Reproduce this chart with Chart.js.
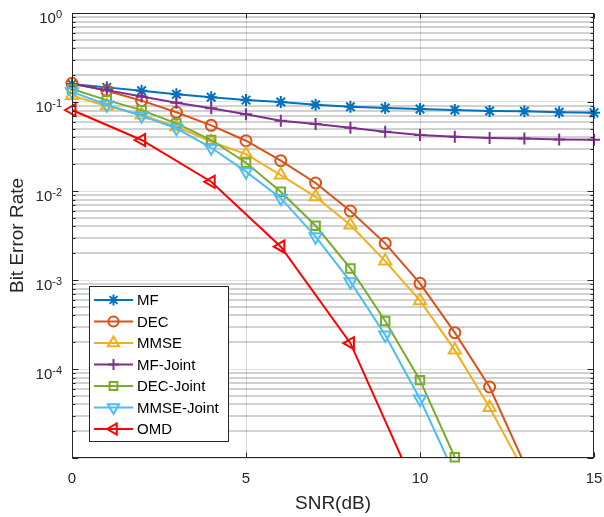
<!DOCTYPE html>
<html>
<head>
<meta charset="utf-8">
<script src="https://cdn.jsdelivr.net/npm/chart.js@4/dist/chart.umd.min.js"></script>
<style>
  html, body { margin: 0; padding: 0; background: #fff; }
  canvas { display: block; }
</style>
</head>
<body>
<canvas id="grafico-ber" width="604" height="517"></canvas>
<script>
// SNR (dB) axis values
const snr = [0, 1, 2, 3, 4, 5, 6, 7, 8, 9, 10, 11, 12, 13, 14, 15];
const snrOmd = [0, 2, 4, 6, 8, 10];

// BER curves
const berMF = [0.159, 0.146, 0.134, 0.122, 0.113, 0.105, 0.1, 0.0932, 0.0886, 0.0856, 0.0834, 0.0813, 0.0792, 0.0786, 0.0766, 0.0758];
const berDEC = [0.162, 0.134, 0.1035, 0.0766, 0.0547, 0.0367, 0.0219, 0.0123, 0.00596, 0.00258, 0.000918, 0.000256, 6.28e-5, 8.6e-6];
const berMMSE = [0.118, 0.090, 0.0714, 0.0528, 0.0358, 0.026, 0.0151, 0.0086, 0.00415, 0.00163, 0.000586, 0.000163, 3.7e-5, 7.0e-6];
const berMFJoint = [0.159, 0.136, 0.115, 0.098, 0.085, 0.0727, 0.0617, 0.0566, 0.0514, 0.0464, 0.0426, 0.0408, 0.0394, 0.0388, 0.038, 0.0376];
const berDECJoint = [0.14, 0.105, 0.081, 0.0575, 0.0374, 0.0208, 0.0098, 0.00407, 0.00135, 0.000346, 7.5e-5, 1.02e-5];
const berMMSEJoint = [0.13, 0.093, 0.07, 0.0507, 0.0306, 0.0165, 0.0083, 0.00307, 0.000957, 0.000241, 4.6e-5, 6.5e-6];
const berOMD = [0.0813, 0.0374, 0.0127, 0.00237, 0.000195, 3.5e-6];

// tick labels
const xTicks = [0, 5, 10, 15];
const yLabelExps = [0, -1, -2, -3, -4];
const yDecades = [-5, -4, -3, -2, -1];

const FONT = "'Liberation Sans', Arial, sans-serif";
const AXIS_COLOR = '#262626';

const series = [
    { label: 'MF', x: snr, y: berMF, color: '#0072BD', style: 'star', radius: 6, rotation: 0 },
    { label: 'DEC', x: snr, y: berDEC, color: '#D95319', style: 'circle', radius: 5.5, rotation: 0 },
    { label: 'MMSE', x: snr, y: berMMSE, color: '#EDB120', style: 'triangle', radius: 7, rotation: 0 },
    { label: 'MF-Joint', x: snr, y: berMFJoint, color: '#7E2F8E', style: 'cross', radius: 6, rotation: 0 },
    { label: 'DEC-Joint', x: snr, y: berDECJoint, color: '#77AC30', style: 'rect', radius: 6, rotation: 0 },
    { label: 'MMSE-Joint', x: snr, y: berMMSEJoint, color: '#4DBEEE', style: 'triangle', radius: 7, rotation: 180 },
    { label: 'OMD', x: snrOmd, y: berOMD, color: '#FF0000', style: 'triangle', radius: 7, rotation: -90 }
];

// grid positions: 1..9 x 10^k for every decade, plus 10^0
const yTickValues = [];
yDecades.forEach(e => {
    for (let m = 1; m <= 9; m++) yTickValues.push(Number((m * Math.pow(10, e)).toPrecision(3)));
});
yTickValues.push(1);

function isDecade(v) {
    const l = Math.log10(v);
    return Math.abs(l - Math.round(l)) < 1e-9;
}

const datasets = series.map((s, i) => ({
    label: s.label,
    data: s.x.slice(0, s.y.length).map((x, k) => ({ x, y: s.y[k] })),
    borderColor: s.color,
    backgroundColor: 'rgba(0,0,0,0)',
    borderWidth: 2,
    pointStyle: s.style,
    pointRadius: s.radius,
    pointRotation: s.rotation,
    pointBorderWidth: 2,
    pointBorderColor: s.color,
    pointBackgroundColor: 'rgba(0,0,0,0)',
    tension: 0,
    order: series.length - i,
    clip: { left: 10, right: 10, top: 10, bottom: s.label === 'DEC-Joint' ? 10 : 0 }
}));

const bordesPlugin = {
    id: 'bordes',
    afterDraw(chart) {
        const { ctx, chartArea: a, scales: { x, y } } = chart;
        const L = Math.round(a.left) + 0.5, R = Math.round(a.right) - 0.5;
        const T = Math.round(a.top) + 0.5, B = Math.round(a.bottom) - 0.5;
        ctx.save();
        ctx.strokeStyle = AXIS_COLOR;
        ctx.lineWidth = 1;
        ctx.strokeRect(L, T, R - L, B - T);

        // inner tick marks
        ctx.beginPath();
        yTickValues.forEach(v => {
            const py = Math.round(y.getPixelForValue(v)) + 0.5;
            const len = isDecade(v) ? 6 : 3;
            ctx.moveTo(L, py); ctx.lineTo(L + len, py);
            ctx.moveTo(R, py); ctx.lineTo(R - len, py);
        });
        xTicks.forEach(v => {
            const px = Math.round(x.getPixelForValue(v)) + 0.5;
            ctx.moveTo(px, B); ctx.lineTo(px, B - 5);
            ctx.moveTo(px, T); ctx.lineTo(px, T + 5);
        });
        ctx.stroke();

        // y tick labels as 10^n
        ctx.fillStyle = AXIS_COLOR;
        ctx.textAlign = 'left';
        ctx.textBaseline = 'alphabetic';
        yLabelExps.forEach(e => {
            const py = y.getPixelForValue(Math.pow(10, e));
            const exp = e === 0 ? '0' : '-' + Math.abs(e);
            ctx.font = '11px ' + FONT;
            const ew = ctx.measureText(exp).width;
            ctx.font = '15px ' + FONT;
            const bw = ctx.measureText('10').width;
            const right = a.left - 10;
            ctx.fillText('10', right - ew - bw, py + 9.5);
            ctx.font = '11px ' + FONT;
            ctx.fillText(exp, right - ew, py + 4.5);
        });

        // legend
        const box = { x: 89.5, y: 286.5, w: 139, h: 155 };
        ctx.fillStyle = '#ffffff';
        ctx.fillRect(box.x, box.y, box.w, box.h);
        ctx.strokeStyle = AXIS_COLOR;
        ctx.strokeRect(box.x, box.y, box.w, box.h);
        series.forEach((s, i) => {
            const cy = 300 + i * 21.5;
            ctx.strokeStyle = s.color;
            ctx.lineWidth = 2;
            ctx.beginPath();
            ctx.moveTo(94, cy); ctx.lineTo(133, cy);
            ctx.stroke();
            ctx.fillStyle = 'rgba(0,0,0,0)';
            Chart.helpers.drawPoint(ctx, {
                pointStyle: s.style, radius: s.radius - 0.5, rotation: s.rotation, borderWidth: 2
            }, 113.5, cy);
            ctx.fillStyle = '#000000';
            ctx.font = '15px ' + FONT;
            ctx.textBaseline = 'middle';
            ctx.fillText(s.label, 137, cy + 1);
        });
        ctx.restore();
    }
};

new Chart(document.getElementById('grafico-ber').getContext('2d'), {
    type: 'line',
    data: { datasets },
    options: {
        responsive: false,
        animation: false,
        devicePixelRatio: 1,
        layout: { padding: { top: 13, right: 10, left: 0, bottom: 0 } },
        plugins: { legend: { display: false }, tooltip: { enabled: false } },
        scales: {
            x: {
                type: 'linear',
                min: 0,
                max: 15,
                afterBuildTicks: s => { s.ticks = xTicks.map(v => ({ value: v })); },
                afterFit: s => {
                    s.height = 59;
                    s.paddingLeft = 0;
                    s.paddingRight = 0;
                },
                grid: {
                    color: c => (c.tick && (c.tick.value === 5 || c.tick.value === 10)) ? 'rgba(0,0,0,0.15)' : 'rgba(0,0,0,0)',
                    lineWidth: 1,
                    drawTicks: false
                },
                border: { display: false },
                ticks: { color: AXIS_COLOR, font: { family: FONT, size: 15 }, padding: 12, maxRotation: 0 },
                title: { display: true, text: 'SNR(dB)', color: AXIS_COLOR, font: { family: FONT, size: 19 }, padding: { top: 0, bottom: 2 } }
            },
            y: {
                type: 'logarithmic',
                min: 1e-5,
                max: 1,
                afterBuildTicks: s => { s.ticks = yTickValues.map(v => ({ value: v, major: isDecade(v) })); },
                afterFit: s => { s.width = 72; },
                grid: {
                    color: c => (c.tick && isDecade(c.tick.value)) ? 'rgba(0,0,0,0.12)' : 'rgba(0,0,0,0.18)',
                    lineWidth: c => (c.tick && isDecade(c.tick.value)) ? 1 : 2,
                    drawTicks: false
                },
                border: { display: false },
                ticks: { display: false },
                title: { display: true, text: 'Bit Error Rate', color: AXIS_COLOR, font: { family: FONT, size: 19 }, padding: { top: 6, bottom: 0 } }
            }
        }
    },
    plugins: [bordesPlugin]
});
</script>
</body>
</html>
